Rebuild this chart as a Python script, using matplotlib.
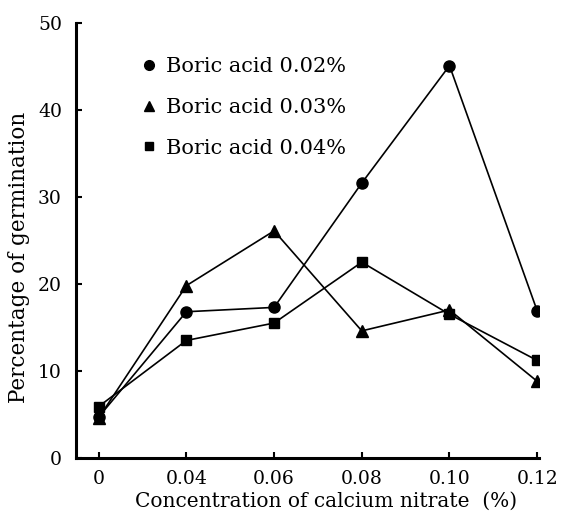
import matplotlib
matplotlib.use("Agg")
import matplotlib.pyplot as plt
from matplotlib.lines import Line2D

# concentrations of calcium nitrate (%)
concentrations = ["0", "0.04", "0.06", "0.08", "0.10", "0.12"]

# percentage of germination for each boric acid level
boric_002 = [4.7, 16.8, 17.3, 31.6, 45.1, 16.9]
boric_003 = [4.6, 19.8, 26.1, 14.6, 17.0, 8.8]
boric_004 = [5.9, 13.5, 15.5, 22.5, 16.5, 11.2]

series_labels = ["Boric acid 0.02%", "Boric acid 0.03%", "Boric acid 0.04%"]

plt.rcParams["font.family"] = ["DejaVu Serif"]

fig = plt.figure(figsize=(5.62, 5.11), dpi=100)
ax = fig.add_axes([0.135, 0.104, 0.824, 0.851])

x = list(range(len(concentrations)))
ax.plot(x, boric_002, color="black", lw=1.2, marker="o", ms=8)
ax.plot(x, boric_003, color="black", lw=1.2, marker="^", ms=8)
ax.plot(x, boric_004, color="black", lw=1.2, marker="s", ms=7)

ax.set_xlim(-0.26, 5.02)
ax.set_ylim(0, 50)
ax.set_xticks(x)
ax.set_xticklabels(concentrations)
ax.set_yticks([0, 10, 20, 30, 40, 50])

for side in ["top", "right"]:
    ax.spines[side].set_visible(False)
for side in ["left", "bottom"]:
    ax.spines[side].set_linewidth(2.2)

ax.tick_params(direction="in", length=4, width=1.5, labelsize=13.5)
ax.tick_params(axis="y", pad=10)
ax.tick_params(axis="x", pad=9)

ax.set_xlabel("Concentration of calcium nitrate  (%)", fontsize=14.5)
ax.xaxis.set_label_coords(0.54, -0.077)
ax.set_ylabel("Percentage of germination", fontsize=15.5)
ax.yaxis.set_label_coords(-0.1, 0.46)

handles = [
    Line2D([], [], color="black", marker="o", ls="none", ms=7),
    Line2D([], [], color="black", marker="^", ls="none", ms=7),
    Line2D([], [], color="black", marker="s", ms=6, ls="none"),
]
ax.legend(handles, series_labels, loc="upper left", bbox_to_anchor=(0.1, 0.965),
          frameon=False, fontsize=15, handlelength=0.8, handletextpad=0.4,
          labelspacing=1.05)

fig.savefig("out.png", dpi=100)
